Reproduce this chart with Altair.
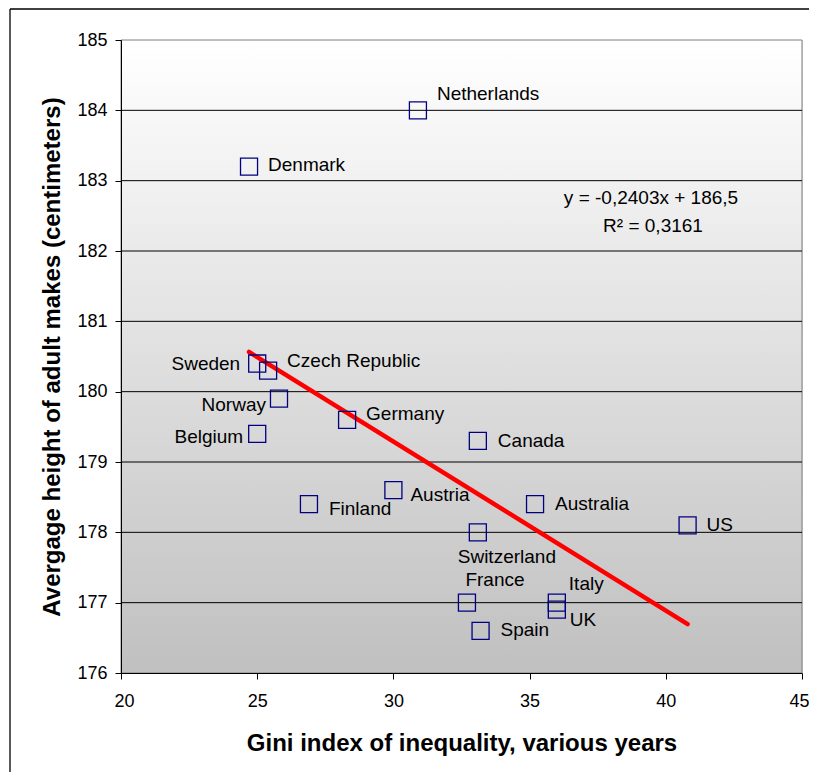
import altair as alt
import pandas as pd

# ---- data ----
countries = ["Netherlands", "Denmark", "Sweden", "Czech Republic", "Norway", "Belgium",
             "Germany", "Canada", "Finland", "Austria", "Australia", "Switzerland", "US",
             "France", "Italy", "UK", "Spain"]
gini = [30.9, 24.7, 25.0, 25.4, 25.8, 25.0, 28.3, 33.1, 26.9, 30.0, 35.2, 33.1, 40.8,
        32.7, 36.0, 36.0, 33.2]
height_cm = [184.0, 183.2, 180.4, 180.3, 179.9, 179.4, 179.6, 179.3, 178.4, 178.6, 178.4,
             178.0, 178.1, 177.0, 177.0, 176.9, 176.6]

x_ticks = [20, 25, 30, 35, 40, 45]
y_ticks = [176, 177, 178, 179, 180, 181, 182, 183, 184, 185]
grid_values = [177, 178, 179, 180, 181, 182, 183, 184]

SLOPE = -0.2403
INTERCEPT = 186.5
eq_lines = ["y = -0,2403x + 186,5", "R² = 0,3161"]

x_title = "Gini index of inequality, various years"
y_title = "Avergage height of adult makes (centimeters)"

# ---- label placement (layout only) ----
label_pos = {
    "Netherlands": (19, -16, "left"),
    "Denmark": (19, -2, "left"),
    "Sweden": (-17, 0, "right"),
    "Czech Republic": (19, -10, "left"),
    "Norway": (-13, 6, "right"),
    "Belgium": (-14, 3, "right"),
    "Germany": (19, -6, "left"),
    "Canada": (20, 0, "left"),
    "Finland": (20, 5, "left"),
    "Austria": (17, 5, "left"),
    "Australia": (20, 0, "left"),
    "Switzerland": (29, 25, "center"),
    "US": (19, 0, "left"),
    "France": (28, -23, "center"),
    "Italy": (12, -19, "left"),
    "UK": (13, 10, "left"),
    "Spain": (20, -1, "left"),
}

W, H = 681, 633
FONT = "Liberation Sans"

df = pd.DataFrame({"country": countries, "gini": gini, "height": height_cm})
df_line = pd.DataFrame({"gini": [min(gini), max(gini)]})
df_grid = pd.DataFrame({"height": grid_values})

xscale = alt.Scale(domain=[20, 45], nice=False, zero=False)
yscale = alt.Scale(domain=[176, 185], nice=False, zero=False)

xaxis = alt.Axis(values=x_ticks, grid=False, title=x_title, domainColor="black",
                 tickColor="black", tickSize=6, ticks=True, labelFontSize=18, labelPadding=13,
                 labelColor="black", titleFontSize=24, titleFontWeight="bold",
                 titleColor="black", titlePadding=21, zindex=1, labelFont=FONT,
                 titleFont=FONT, labelFlush=True, labelFlushOffset=7, labelOverlap=False)
yaxis = alt.Axis(values=y_ticks, grid=False, title=y_title, domainColor="black",
                 tickColor="black", tickSize=6, ticks=True, labelFontSize=18, labelPadding=8,
                 labelColor="black", titleFontSize=24, titleFontWeight="bold",
                 titleColor="black", titlePadding=12, zindex=1, labelFont=FONT,
                 titleFont=FONT, labelFlush=False, labelOverlap=False)

X = alt.X("gini:Q", scale=xscale, axis=xaxis)
Y = alt.Y("height:Q", scale=yscale, axis=yaxis)

gradient = alt.LinearGradient(
    gradient="linear",
    stops=[alt.GradientStop(color="#ffffff", offset=0),
           alt.GradientStop(color="#c0c0c0", offset=1)],
    x1=0, x2=0, y1=0, y2=1)

bg = alt.Chart(pd.DataFrame({"a": [0]})).mark_rect(
    color=gradient, stroke="#808080", strokeWidth=1
).encode(x=alt.value(0), x2=alt.value(W), y=alt.value(0), y2=alt.value(H))

grid = alt.Chart(df_grid).mark_rule(color="black", strokeWidth=1).encode(y=Y)

# outer frame (left and top edges visible in the reference)
frame_left = alt.Chart(pd.DataFrame({"a": [0]})).mark_rule(color="black", strokeWidth=1.3).encode(
    x=alt.value(-111), y=alt.value(-31), y2=alt.value(H + 99))
frame_top = alt.Chart(pd.DataFrame({"a": [0]})).mark_rule(color="black", strokeWidth=1.3).encode(
    x=alt.value(-111), x2=alt.value(W + 7), y=alt.value(-31))

trend = alt.Chart(df_line).transform_calculate(
    height=f"{SLOPE} * datum.gini + {INTERCEPT}"
).mark_line(color="#ff0000", strokeWidth=4.5, strokeCap="round").encode(x=X, y=Y)

points = alt.Chart(df).mark_point(
    shape="square", filled=False, size=290, color="#000080", strokeWidth=1.3, opacity=1
).encode(x=X, y=Y)

label_layers = []
for name, (dx, dy, align) in label_pos.items():
    label_layers.append(
        alt.Chart(df).transform_filter(alt.datum.country == name).mark_text(
            dx=dx, dy=dy, align=align, baseline="middle", fontSize=19, font=FONT,
            color="black"
        ).encode(x=X, y=Y, text="country:N"))

eq_df = pd.DataFrame({"t": eq_lines, "row": [0, 1]})
eq1 = alt.Chart(eq_df).transform_filter(alt.datum.row == 0).mark_text(
    align="center", baseline="middle", fontSize=19, font=FONT, color="black"
).encode(x=alt.value(530), y=alt.value(158), text="t:N")
eq2 = alt.Chart(eq_df).transform_filter(alt.datum.row == 1).mark_text(
    align="center", baseline="middle", fontSize=19, font=FONT, color="black"
).encode(x=alt.value(532), y=alt.value(186), text="t:N")

chart = alt.layer(bg, grid, trend, points, *label_layers, eq1, eq2, frame_left, frame_top).properties(
    width=W, height=H,
    autosize=alt.AutoSizeParams(type="none"),
    padding={"left": 113, "top": 32, "right": 7, "bottom": 99},
).configure_view(stroke=None).configure(font=FONT)

chart.save("out.html", embed_options={"renderer": "svg", "actions": False})
